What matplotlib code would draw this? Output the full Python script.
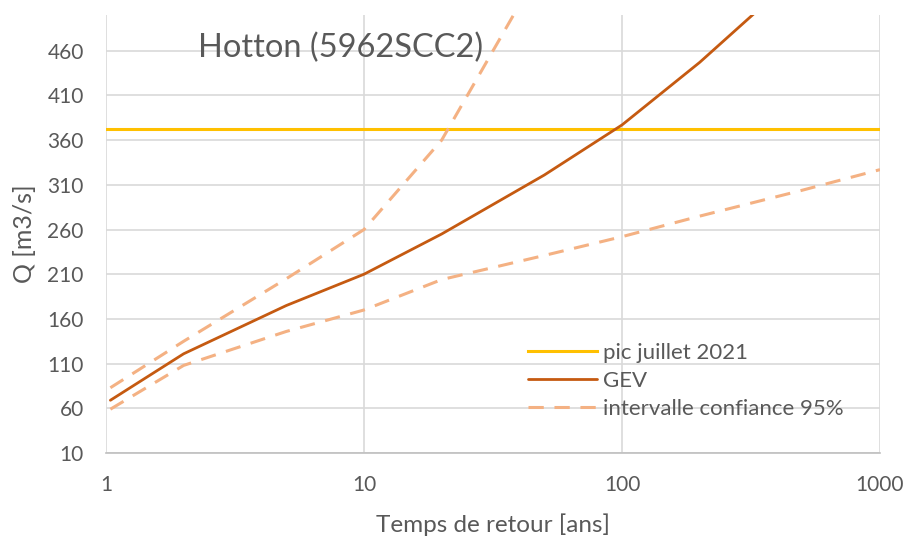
import matplotlib
matplotlib.use("Agg")
import matplotlib.pyplot as plt

plt.rcParams['font.family'] = ['Lato', 'DejaVu Sans']

# Data
T_gev = [1.04, 2, 5, 10, 20, 50, 100, 200, 500]
Q_gev = [69, 121, 175, 210, 255, 321, 377, 447, 550]
T_up = [1.04, 2, 5, 10, 20, 50]
Q_up = [83, 135, 205, 260, 360, 560]
T_low = [1.04, 2, 5, 10, 20, 50, 100, 200, 500, 1000]
Q_low = [59, 108, 146, 170, 204, 231, 252, 275, 304, 327]
T_pic = [1, 1000]
Q_pic = [372, 372]
yticks = list(range(10, 461, 50))
xticks = [1, 10, 100, 1000]
xticklabels = ['1', '10', '100', '1000']

W, H = 912, 541
fig = plt.figure(figsize=(W/100, H/100), dpi=100)
ax = fig.add_axes([106/W, 1-453/H, (880-106)/W, (453-15)/H])

c_pic = '#FFC000'
c_gev = '#C55A11'
c_ci = '#F4B183'

ax.plot(T_pic, Q_pic, color=c_pic, lw=2.2, label='pic juillet 2021', zorder=3)
ax.plot(T_gev, Q_gev, color=c_gev, lw=2.0, label='GEV', zorder=4, solid_capstyle='round')
ax.plot(T_up, Q_up, color=c_ci, lw=2.2, dashes=(5, 3.5), label='intervalle confiance 95%', zorder=3)
ax.plot(T_low, Q_low, color=c_ci, lw=2.2, dashes=(5, 3.5), zorder=3)

ax.set_xscale('log')
ax.set_xlim(1, 1000)
ax.set_ylim(10, 500)
ax.set_yticks(yticks)
ax.set_xticks(xticks)
ax.set_xticklabels(xticklabels)
ax.minorticks_off()
ax.tick_params(axis='both', length=0, labelsize=15, colors='#595959')
ax.tick_params(axis='x', pad=16)
ax.tick_params(axis='y', pad=16)

ax.grid(True, color='#D9D9D9', lw=1.2)
ax.set_axisbelow(True)
for s in ['top', 'right', 'left']:
    ax.spines[s].set_visible(False)
ax.spines['bottom'].set_color('#BFBFBF')
ax.spines['bottom'].set_linewidth(1.2)

ax.set_xlabel('Temps de retour [ans]', fontsize=17.5, color='#595959', labelpad=13)
ax.set_ylabel('Q [m3/s]', fontsize=18, color='#595959', labelpad=8)

ax.text(0.1185, 0.925, 'Hotton (5962SCC2)', transform=ax.transAxes, fontsize=23.5,
        color='#595959', ha='left', va='center')

leg = ax.legend(loc='upper left', bbox_to_anchor=(0.545, 0.252), frameon=False,
                fontsize=16, handlelength=3.1, handletextpad=0.3, labelspacing=0.36,
                borderpad=0, borderaxespad=0, labelcolor='#595959')

fig.savefig('out.png', dpi=100)
